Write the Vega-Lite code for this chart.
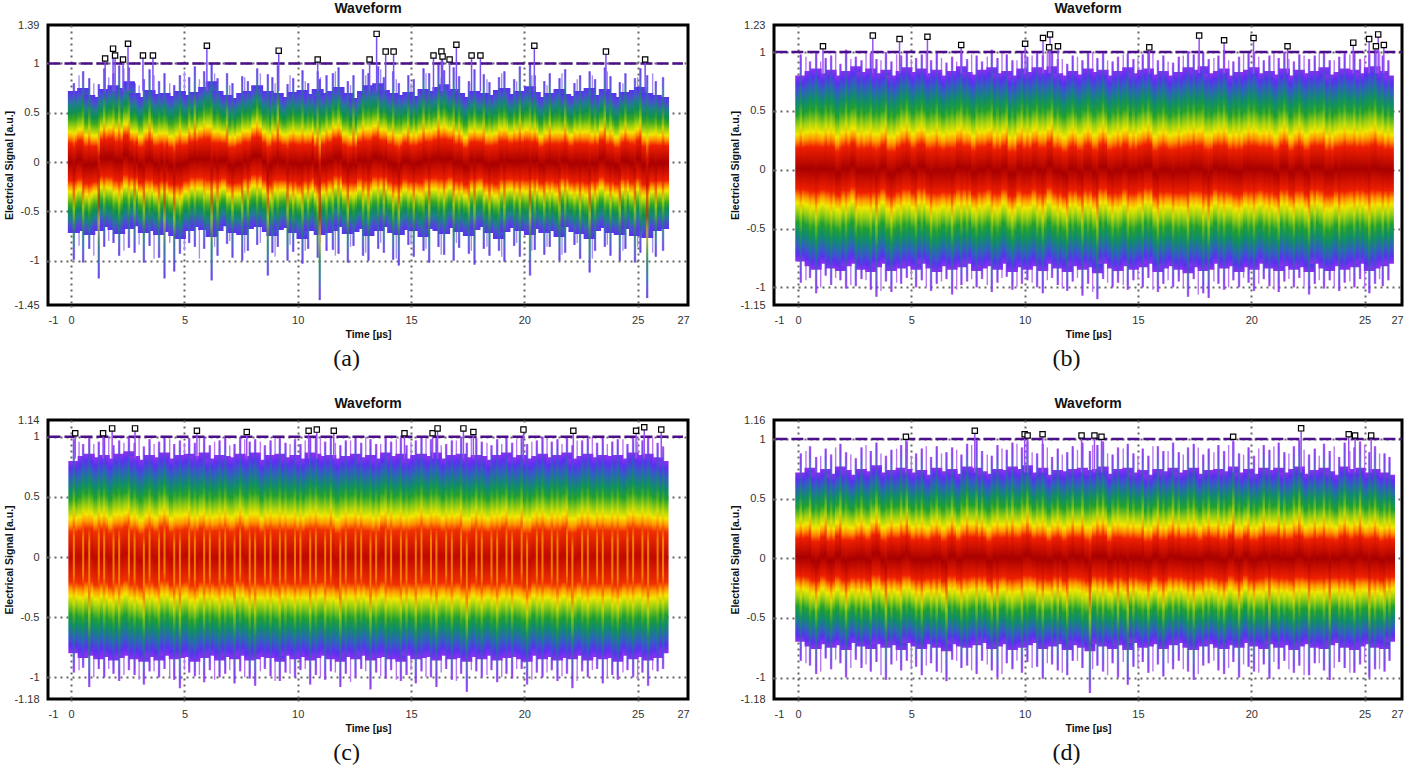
{"$schema":"https://vega.github.io/schema/vega-lite/v6.json","padding":{"left":2,"top":0,"right":0,"bottom":0},"background":"white","spacing":24,
"config":{"view":{"stroke":"black","strokeWidth":3},"font":"Liberation Sans","title":{"font":"Liberation Sans","fontSize":14,"fontWeight":"bold","color":"#111","offset":3},
"axis":{"labelFont":"Liberation Sans","labelFontSize":11,"labelColor":"#333","titleFont":"Liberation Sans","titleFontSize":10.5,"titleFontWeight":"bold","titleColor":"#111","domain":false,"grid":true,"gridColor":"#666","gridWidth":2,"gridDash":[2,4],"tickColor":"#666","tickWidth":2,"tickDash":[2,4],"tickSize":6,"labelPadding":3}},
"datasets":{
"level":[{"t":-1,"h":1},{"t":27,"h":1}],
"sa":[{"t":0.35,"h":0.88,"l":-0.85},{"t":1.0,"h":0.8,"l":-0.95},{"t":1.66,"h":0.86,"l":-0.8},{"t":2.33,"h":0.95,"l":-0.9},{"t":3.0,"h":0.78,"l":-0.84},{"t":3.66,"h":0.88,"l":-0.98},{"t":4.35,"h":0.8,"l":-0.82},{"t":5.0,"h":0.92,"l":-0.9},{"t":5.66,"h":0.84,"l":-0.98},{"t":6.33,"h":0.9,"l":-0.86},{"t":7.0,"h":0.78,"l":-0.8},{"t":7.66,"h":0.86,"l":-0.92},{"t":8.35,"h":0.9,"l":-0.82},{"t":9.0,"h":0.8,"l":-0.96},{"t":9.66,"h":0.88,"l":-0.84},{"t":10.33,"h":0.82,"l":-0.9},{"t":11.0,"h":0.86,"l":-0.82},{"t":11.66,"h":0.92,"l":-0.95},{"t":12.33,"h":0.78,"l":-0.86},{"t":13.0,"h":0.88,"l":-0.92},{"t":13.66,"h":0.94,"l":-0.82},{"t":14.35,"h":0.84,"l":-0.98},{"t":15.0,"h":0.8,"l":-0.84},{"t":15.66,"h":0.9,"l":-0.88},{"t":16.33,"h":0.86,"l":-0.94},{"t":17.0,"h":0.92,"l":-0.82},{"t":17.66,"h":0.8,"l":-0.9},{"t":18.35,"h":0.84,"l":-0.86},{"t":19.0,"h":0.9,"l":-0.96},{"t":19.66,"h":0.82,"l":-0.82},{"t":20.33,"h":0.88,"l":-0.9},{"t":21.0,"h":0.78,"l":-0.86},{"t":21.66,"h":0.9,"l":-0.94},{"t":22.33,"h":0.84,"l":-0.82},{"t":23.0,"h":0.88,"l":-0.98},{"t":23.66,"h":0.92,"l":-0.84},{"t":24.35,"h":0.8,"l":-0.9},{"t":25.0,"h":0.86,"l":-0.86},{"t":25.66,"h":0.9,"l":-0.92}],
"sb":[{"t":0.35,"h":0.96,"l":-0.94},{"t":1.0,"h":0.92,"l":-1.0},{"t":1.66,"h":0.99,"l":-0.92},{"t":2.33,"h":0.94,"l":-0.98},{"t":3.0,"h":1.0,"l":-0.94},{"t":3.66,"h":0.93,"l":-1.03},{"t":4.35,"h":0.98,"l":-0.96},{"t":5.0,"h":0.94,"l":-0.91},{"t":5.66,"h":1.0,"l":-1.0},{"t":6.33,"h":0.95,"l":-0.95},{"t":7.0,"h":0.92,"l":-1.02},{"t":7.66,"h":0.98,"l":-0.93},{"t":8.35,"h":0.96,"l":-0.98},{"t":9.0,"h":1.0,"l":-0.92},{"t":9.66,"h":0.93,"l":-1.0},{"t":10.33,"h":0.97,"l":-0.96},{"t":11.0,"h":0.99,"l":-0.94},{"t":11.66,"h":0.94,"l":-1.01},{"t":12.33,"h":0.96,"l":-0.92},{"t":13.0,"h":1.0,"l":-1.04},{"t":13.66,"h":0.93,"l":-0.96},{"t":14.35,"h":0.98,"l":-0.98},{"t":15.0,"h":0.95,"l":-0.93},{"t":15.66,"h":0.99,"l":-1.02},{"t":16.33,"h":0.92,"l":-0.94},{"t":17.0,"h":0.97,"l":-1.0},{"t":17.66,"h":1.0,"l":-1.06},{"t":18.35,"h":0.95,"l":-0.95},{"t":19.0,"h":0.93,"l":-1.0},{"t":19.66,"h":0.98,"l":-0.92},{"t":20.33,"h":0.96,"l":-0.97},{"t":21.0,"h":0.99,"l":-1.02},{"t":21.66,"h":0.94,"l":-0.93},{"t":22.33,"h":0.97,"l":-0.99},{"t":23.0,"h":1.0,"l":-0.94},{"t":23.66,"h":0.93,"l":-1.0},{"t":24.35,"h":0.98,"l":-0.95},{"t":25.0,"h":0.96,"l":-1.01},{"t":25.66,"h":0.99,"l":-0.93}],
"sc":[{"t":0.35,"h":0.96,"l":-0.94},{"t":1.0,"h":0.94,"l":-1.0},{"t":1.66,"h":0.99,"l":-0.93},{"t":2.33,"h":0.95,"l":-0.98},{"t":3.0,"h":1.0,"l":-1.02},{"t":3.66,"h":0.94,"l":-0.95},{"t":4.35,"h":0.98,"l":-1.0},{"t":5.0,"h":0.95,"l":-0.94},{"t":5.66,"h":1.0,"l":-0.98},{"t":6.33,"h":0.96,"l":-1.02},{"t":7.0,"h":0.93,"l":-0.94},{"t":7.66,"h":0.98,"l":-1.0},{"t":8.35,"h":0.96,"l":-0.95},{"t":9.0,"h":1.0,"l":-1.03},{"t":9.66,"h":0.94,"l":-0.97},{"t":10.33,"h":0.97,"l":-0.93},{"t":11.0,"h":0.99,"l":-1.0},{"t":11.66,"h":0.95,"l":-0.96},{"t":12.33,"h":0.97,"l":-1.04},{"t":13.0,"h":1.0,"l":-0.95},{"t":13.66,"h":0.94,"l":-0.99},{"t":14.35,"h":0.98,"l":-1.02},{"t":15.0,"h":0.96,"l":-0.94},{"t":15.66,"h":0.99,"l":-1.0},{"t":16.33,"h":0.93,"l":-0.96},{"t":17.0,"h":0.97,"l":-1.03},{"t":17.66,"h":1.0,"l":-0.94},{"t":18.35,"h":0.95,"l":-0.98},{"t":19.0,"h":0.94,"l":-1.0},{"t":19.66,"h":0.98,"l":-0.93},{"t":20.33,"h":0.96,"l":-1.02},{"t":21.0,"h":0.99,"l":-0.96},{"t":21.66,"h":0.94,"l":-0.99},{"t":22.33,"h":0.97,"l":-1.03},{"t":23.0,"h":1.0,"l":-0.94},{"t":23.66,"h":0.94,"l":-1.0},{"t":24.35,"h":0.98,"l":-0.96},{"t":25.0,"h":0.96,"l":-1.02},{"t":25.66,"h":0.99,"l":-0.94}],
"sd":[{"t":0.35,"h":0.9,"l":-0.88},{"t":1.0,"h":0.86,"l":-0.95},{"t":1.66,"h":0.93,"l":-0.85},{"t":2.33,"h":0.87,"l":-0.92},{"t":3.0,"h":0.95,"l":-0.89},{"t":3.66,"h":0.88,"l":-0.98},{"t":4.35,"h":0.92,"l":-0.86},{"t":5.0,"h":0.86,"l":-0.93},{"t":5.66,"h":0.94,"l":-0.9},{"t":6.33,"h":0.88,"l":-0.96},{"t":7.0,"h":0.91,"l":-0.86},{"t":7.66,"h":0.95,"l":-0.94},{"t":8.35,"h":0.87,"l":-0.89},{"t":9.0,"h":0.92,"l":-0.97},{"t":9.66,"h":0.96,"l":-0.86},{"t":10.33,"h":0.89,"l":-0.92},{"t":11.0,"h":0.93,"l":-0.88},{"t":11.66,"h":0.87,"l":-0.96},{"t":12.33,"h":0.91,"l":-0.86},{"t":13.0,"h":0.95,"l":-0.93},{"t":13.66,"h":0.88,"l":-0.98},{"t":14.35,"h":0.92,"l":-0.87},{"t":15.0,"h":0.86,"l":-0.92},{"t":15.66,"h":0.94,"l":-0.95},{"t":16.33,"h":0.9,"l":-0.88},{"t":17.0,"h":0.87,"l":-0.93},{"t":17.66,"h":0.93,"l":-0.97},{"t":18.35,"h":0.89,"l":-0.86},{"t":19.0,"h":0.95,"l":-0.92},{"t":19.66,"h":0.87,"l":-0.89},{"t":20.33,"h":0.92,"l":-0.96},{"t":21.0,"h":0.94,"l":-0.87},{"t":21.66,"h":0.88,"l":-0.93},{"t":22.33,"h":0.91,"l":-0.98},{"t":23.0,"h":0.86,"l":-0.88},{"t":23.66,"h":0.94,"l":-0.92},{"t":24.35,"h":0.9,"l":-0.96},{"t":25.0,"h":0.95,"l":-0.87},{"t":25.66,"h":0.88,"l":-0.93}],
"pa":[{"t":1.5,"h":1.05},{"t":1.85,"h":1.15},{"t":1.94,"h":1.08},{"t":2.29,"h":1.04},{"t":2.51,"h":1.2},{"t":3.17,"h":1.08},{"t":3.61,"h":1.08},{"t":5.99,"h":1.18},{"t":9.16,"h":1.13},{"t":10.88,"h":1.04},{"t":13.17,"h":1.04},{"t":13.48,"h":1.3},{"t":13.88,"h":1.12},{"t":14.23,"h":1.12},{"t":15.99,"h":1.08},{"t":16.34,"h":1.12},{"t":16.39,"h":1.07},{"t":16.7,"h":1.04},{"t":17.0,"h":1.19},{"t":17.67,"h":1.08},{"t":18.06,"h":1.08},{"t":20.44,"h":1.18},{"t":23.6,"h":1.12},{"t":25.33,"h":1.04}],
"pb":[{"t":1.1,"h":1.05},{"t":3.3,"h":1.14},{"t":4.48,"h":1.11},{"t":5.71,"h":1.13},{"t":7.2,"h":1.06},{"t":10.02,"h":1.07},{"t":10.81,"h":1.12},{"t":11.08,"h":1.04},{"t":11.12,"h":1.15},{"t":11.47,"h":1.05},{"t":15.5,"h":1.04},{"t":17.7,"h":1.14},{"t":18.8,"h":1.1},{"t":20.1,"h":1.12},{"t":21.6,"h":1.05},{"t":24.5,"h":1.08},{"t":25.2,"h":1.11},{"t":25.5,"h":1.05},{"t":25.6,"h":1.15},{"t":25.85,"h":1.06}],
"pc":[{"t":0.18,"h":1.03},{"t":1.41,"h":1.03},{"t":1.81,"h":1.07},{"t":2.82,"h":1.07},{"t":5.55,"h":1.05},{"t":7.75,"h":1.04},{"t":10.48,"h":1.05},{"t":10.84,"h":1.06},{"t":11.59,"h":1.05},{"t":14.71,"h":1.03},{"t":15.95,"h":1.03},{"t":16.17,"h":1.07},{"t":17.31,"h":1.07},{"t":17.75,"h":1.04},{"t":19.96,"h":1.06},{"t":22.16,"h":1.05},{"t":24.93,"h":1.05},{"t":25.29,"h":1.08},{"t":26.04,"h":1.06}],
"pd":[{"t":4.76,"h":1.02},{"t":7.8,"h":1.07},{"t":10.0,"h":1.04},{"t":10.13,"h":1.03},{"t":10.79,"h":1.04},{"t":12.51,"h":1.03},{"t":13.08,"h":1.03},{"t":13.39,"h":1.02},{"t":19.2,"h":1.02},{"t":22.2,"h":1.09},{"t":24.3,"h":1.04},{"t":24.58,"h":1.03},{"t":25.29,"h":1.03}],
"a":[{"t":0.12,"h":0.8,"l":-0.99,"u":0.72,"d":-0.72},{"t":0.53,"h":0.92,"l":-1.02,"u":0.75,"d":-0.7},{"t":0.8,"h":0.85,"l":-0.88,"u":0.68,"d":-0.74},{"t":1.22,"h":0.79,"l":-1.18,"u":0.66,"d":-0.7},{"t":1.46,"h":0.95,"l":-0.86,"u":0.74,"d":-0.66},{"t":1.87,"h":0.9,"l":-0.82,"u":0.78,"d":-0.69},{"t":2.12,"h":0.98,"l":-0.95,"u":0.75,"d":-0.73},{"t":2.55,"h":0.96,"l":-0.87,"u":0.82,"d":-0.68},{"t":2.8,"h":0.8,"l":-0.92,"u":0.7,"d":-0.65},{"t":3.21,"h":0.84,"l":-1.02,"u":0.66,"d":-0.72},{"t":3.46,"h":0.94,"l":-0.85,"u":0.73,"d":-0.7},{"t":3.88,"h":0.82,"l":-0.97,"u":0.69,"d":-0.74},{"t":4.12,"h":0.9,"l":-1.18,"u":0.7,"d":-0.71},{"t":4.55,"h":0.78,"l":-1.11,"u":0.67,"d":-0.75},{"t":4.8,"h":0.88,"l":-0.93,"u":0.72,"d":-0.78},{"t":5.21,"h":0.86,"l":-0.82,"u":0.68,"d":-0.7},{"t":5.46,"h":0.97,"l":-0.86,"u":0.71,"d":-0.66},{"t":5.87,"h":0.92,"l":-0.88,"u":0.76,"d":-0.69},{"t":6.2,"h":1.0,"l":-1.2,"u":0.82,"d":-0.76},{"t":6.46,"h":0.85,"l":-0.95,"u":0.72,"d":-0.7},{"t":6.88,"h":0.9,"l":-0.83,"u":0.68,"d":-0.65},{"t":7.12,"h":0.8,"l":-0.97,"u":0.65,"d":-0.72},{"t":7.55,"h":0.87,"l":-1.0,"u":0.7,"d":-0.74},{"t":7.8,"h":0.82,"l":-0.9,"u":0.72,"d":-0.68},{"t":8.21,"h":0.95,"l":-0.84,"u":0.78,"d":-0.66},{"t":8.68,"h":0.89,"l":-1.15,"u":0.72,"d":-0.71},{"t":8.88,"h":0.86,"l":-0.92,"u":0.68,"d":-0.75},{"t":9.12,"h":0.98,"l":-0.86,"u":0.7,"d":-0.69},{"t":9.55,"h":0.79,"l":-1.0,"u":0.66,"d":-0.67},{"t":9.8,"h":0.85,"l":-0.91,"u":0.71,"d":-0.72},{"t":10.21,"h":0.93,"l":-1.03,"u":0.73,"d":-0.78},{"t":10.46,"h":0.8,"l":-0.88,"u":0.69,"d":-0.7},{"t":10.88,"h":0.92,"l":-0.97,"u":0.74,"d":-0.68},{"t":10.97,"h":0.84,"l":-1.4,"u":0.67,"d":-0.74},{"t":11.27,"h":0.88,"l":-0.9,"u":0.7,"d":-0.72},{"t":11.55,"h":0.9,"l":-0.89,"u":0.72,"d":-0.7},{"t":11.8,"h":0.96,"l":-0.93,"u":0.76,"d":-0.66},{"t":12.21,"h":0.82,"l":-1.02,"u":0.7,"d":-0.73},{"t":12.46,"h":0.88,"l":-0.85,"u":0.65,"d":-0.71},{"t":12.88,"h":0.94,"l":-0.95,"u":0.72,"d":-0.68},{"t":13.12,"h":0.9,"l":-1.0,"u":0.78,"d":-0.75},{"t":13.55,"h":0.97,"l":-0.88,"u":0.8,"d":-0.7},{"t":13.8,"h":0.86,"l":-0.92,"u":0.73,"d":-0.66},{"t":14.21,"h":0.92,"l":-0.99,"u":0.7,"d":-0.72},{"t":14.46,"h":0.8,"l":-1.05,"u":0.68,"d":-0.74},{"t":14.88,"h":0.88,"l":-0.84,"u":0.71,"d":-0.69},{"t":15.12,"h":0.84,"l":-0.96,"u":0.67,"d":-0.7},{"t":15.55,"h":0.95,"l":-0.9,"u":0.74,"d":-0.76},{"t":15.8,"h":0.9,"l":-1.02,"u":0.72,"d":-0.68},{"t":16.21,"h":0.99,"l":-0.86,"u":0.76,"d":-0.7},{"t":16.46,"h":0.93,"l":-0.94,"u":0.79,"d":-0.73},{"t":16.88,"h":0.96,"l":-1.0,"u":0.74,"d":-0.67},{"t":17.12,"h":0.87,"l":-0.87,"u":0.7,"d":-0.71},{"t":17.55,"h":0.82,"l":-0.93,"u":0.66,"d":-0.75},{"t":17.8,"h":0.94,"l":-1.04,"u":0.72,"d":-0.69},{"t":18.21,"h":0.89,"l":-0.88,"u":0.7,"d":-0.66},{"t":18.46,"h":0.81,"l":-0.95,"u":0.68,"d":-0.72},{"t":18.88,"h":0.86,"l":-0.9,"u":0.73,"d":-0.78},{"t":19.12,"h":0.92,"l":-1.01,"u":0.75,"d":-0.71},{"t":19.55,"h":0.84,"l":-0.85,"u":0.69,"d":-0.67},{"t":19.8,"h":0.97,"l":-0.96,"u":0.72,"d":-0.7},{"t":20.25,"h":1.0,"l":-1.15,"u":0.77,"d":-0.74},{"t":20.46,"h":0.88,"l":-0.89,"u":0.71,"d":-0.68},{"t":20.88,"h":0.82,"l":-0.94,"u":0.66,"d":-0.72},{"t":21.12,"h":0.9,"l":-0.86,"u":0.7,"d":-0.7},{"t":21.55,"h":0.85,"l":-1.0,"u":0.74,"d":-0.76},{"t":21.8,"h":0.94,"l":-0.92,"u":0.69,"d":-0.66},{"t":22.21,"h":0.8,"l":-0.84,"u":0.67,"d":-0.71},{"t":22.46,"h":0.88,"l":-0.98,"u":0.72,"d":-0.73},{"t":22.88,"h":0.92,"l":-1.12,"u":0.75,"d":-0.78},{"t":23.12,"h":0.84,"l":-0.9,"u":0.68,"d":-0.7},{"t":23.55,"h":0.96,"l":-0.86,"u":0.74,"d":-0.67},{"t":23.8,"h":0.87,"l":-0.95,"u":0.7,"d":-0.72},{"t":24.21,"h":0.81,"l":-1.0,"u":0.66,"d":-0.74},{"t":24.46,"h":0.9,"l":-0.88,"u":0.71,"d":-0.68},{"t":24.88,"h":0.85,"l":-1.02,"u":0.73,"d":-0.75},{"t":25.12,"h":0.95,"l":-0.92,"u":0.76,"d":-0.7},{"t":25.42,"h":0.88,"l":-1.38,"u":0.7,"d":-0.77},{"t":25.8,"h":0.82,"l":-0.96,"u":0.68,"d":-0.7},{"t":26.12,"h":0.86,"l":-0.9,"u":0.66,"d":-0.68}],
"b":[{"t":0.12,"h":0.98,"l":-0.96,"u":0.8,"d":-0.78},{"t":0.53,"h":0.92,"l":-0.92,"u":0.84,"d":-0.82},{"t":0.8,"h":1.0,"l":-1.05,"u":0.86,"d":-0.85},{"t":1.22,"h":0.95,"l":-0.9,"u":0.82,"d":-0.8},{"t":1.46,"h":0.97,"l":-0.98,"u":0.85,"d":-0.84},{"t":1.87,"h":0.9,"l":-0.94,"u":0.8,"d":-0.86},{"t":2.12,"h":1.02,"l":-1.01,"u":0.84,"d":-0.82},{"t":2.55,"h":0.96,"l":-0.99,"u":0.88,"d":-0.8},{"t":2.8,"h":0.93,"l":-0.93,"u":0.83,"d":-0.85},{"t":3.21,"h":0.99,"l":-1.02,"u":0.86,"d":-0.87},{"t":3.46,"h":0.94,"l":-1.08,"u":0.82,"d":-0.83},{"t":3.88,"h":1.0,"l":-0.95,"u":0.85,"d":-0.8},{"t":4.12,"h":0.92,"l":-1.04,"u":0.8,"d":-0.86},{"t":4.55,"h":0.97,"l":-0.97,"u":0.84,"d":-0.84},{"t":4.8,"h":1.01,"l":-0.92,"u":0.87,"d":-0.82},{"t":5.21,"h":0.95,"l":-1.0,"u":0.83,"d":-0.85},{"t":5.46,"h":0.98,"l":-0.94,"u":0.86,"d":-0.8},{"t":5.87,"h":0.93,"l":-1.03,"u":0.82,"d":-0.84},{"t":6.12,"h":0.99,"l":-0.97,"u":0.85,"d":-0.87},{"t":6.55,"h":0.91,"l":-0.93,"u":0.8,"d":-0.82},{"t":6.8,"h":0.96,"l":-1.06,"u":0.84,"d":-0.85},{"t":7.21,"h":1.0,"l":-0.98,"u":0.88,"d":-0.83},{"t":7.46,"h":0.94,"l":-0.95,"u":0.83,"d":-0.8},{"t":7.88,"h":0.97,"l":-1.0,"u":0.81,"d":-0.86},{"t":8.12,"h":0.92,"l":-0.93,"u":0.85,"d":-0.84},{"t":8.55,"h":1.02,"l":-1.04,"u":0.87,"d":-0.82},{"t":8.8,"h":0.95,"l":-0.96,"u":0.82,"d":-0.85},{"t":9.21,"h":0.98,"l":-0.91,"u":0.84,"d":-0.8},{"t":9.46,"h":0.93,"l":-1.02,"u":0.8,"d":-0.87},{"t":9.88,"h":0.99,"l":-0.97,"u":0.86,"d":-0.83},{"t":10.12,"h":0.96,"l":-0.94,"u":0.83,"d":-0.85},{"t":10.55,"h":1.0,"l":-1.0,"u":0.87,"d":-0.82},{"t":10.8,"h":0.97,"l":-1.05,"u":0.85,"d":-0.86},{"t":11.21,"h":1.01,"l":-0.92,"u":0.88,"d":-0.8},{"t":11.46,"h":0.94,"l":-0.98,"u":0.82,"d":-0.84},{"t":11.88,"h":0.9,"l":-1.03,"u":0.8,"d":-0.87},{"t":12.12,"h":0.97,"l":-0.95,"u":0.84,"d":-0.82},{"t":12.55,"h":0.93,"l":-1.07,"u":0.81,"d":-0.85},{"t":12.8,"h":0.99,"l":-0.97,"u":0.86,"d":-0.83},{"t":13.21,"h":0.95,"l":-1.1,"u":0.83,"d":-0.88},{"t":13.46,"h":1.0,"l":-0.93,"u":0.85,"d":-0.8},{"t":13.88,"h":0.92,"l":-1.0,"u":0.8,"d":-0.84},{"t":14.12,"h":0.96,"l":-0.96,"u":0.84,"d":-0.86},{"t":14.55,"h":0.99,"l":-1.02,"u":0.87,"d":-0.82},{"t":14.8,"h":0.94,"l":-0.94,"u":0.82,"d":-0.85},{"t":15.21,"h":0.98,"l":-1.0,"u":0.85,"d":-0.83},{"t":15.46,"h":1.0,"l":-0.92,"u":0.86,"d":-0.8},{"t":15.88,"h":0.93,"l":-1.04,"u":0.81,"d":-0.87},{"t":16.12,"h":0.97,"l":-0.97,"u":0.84,"d":-0.84},{"t":16.55,"h":0.91,"l":-1.0,"u":0.8,"d":-0.82},{"t":16.8,"h":0.96,"l":-0.95,"u":0.83,"d":-0.85},{"t":17.21,"h":1.01,"l":-1.08,"u":0.87,"d":-0.88},{"t":17.46,"h":0.98,"l":-0.93,"u":0.85,"d":-0.83},{"t":17.88,"h":1.0,"l":-1.05,"u":0.88,"d":-0.86},{"t":18.12,"h":0.94,"l":-1.09,"u":0.82,"d":-0.85},{"t":18.55,"h":0.97,"l":-0.97,"u":0.84,"d":-0.8},{"t":18.8,"h":1.02,"l":-1.02,"u":0.86,"d":-0.84},{"t":19.21,"h":0.92,"l":-0.94,"u":0.8,"d":-0.82},{"t":19.46,"h":0.96,"l":-1.0,"u":0.83,"d":-0.87},{"t":19.88,"h":0.99,"l":-0.96,"u":0.85,"d":-0.83},{"t":20.12,"h":1.0,"l":-1.03,"u":0.87,"d":-0.85},{"t":20.55,"h":0.93,"l":-0.93,"u":0.82,"d":-0.8},{"t":20.8,"h":0.97,"l":-0.99,"u":0.84,"d":-0.84},{"t":21.21,"h":0.95,"l":-1.04,"u":0.81,"d":-0.86},{"t":21.46,"h":1.0,"l":-0.95,"u":0.86,"d":-0.82},{"t":21.88,"h":0.92,"l":-1.0,"u":0.8,"d":-0.85},{"t":22.12,"h":0.98,"l":-0.92,"u":0.85,"d":-0.83},{"t":22.55,"h":0.94,"l":-1.06,"u":0.82,"d":-0.87},{"t":22.8,"h":0.97,"l":-0.97,"u":0.84,"d":-0.8},{"t":23.21,"h":1.01,"l":-1.01,"u":0.87,"d":-0.84},{"t":23.46,"h":0.93,"l":-0.94,"u":0.81,"d":-0.86},{"t":23.88,"h":0.96,"l":-1.03,"u":0.83,"d":-0.82},{"t":24.12,"h":0.99,"l":-0.96,"u":0.86,"d":-0.85},{"t":24.55,"h":1.0,"l":-1.0,"u":0.85,"d":-0.83},{"t":24.8,"h":0.94,"l":-0.93,"u":0.82,"d":-0.8},{"t":25.21,"h":0.98,"l":-1.05,"u":0.87,"d":-0.86},{"t":25.46,"h":1.02,"l":-0.97,"u":0.88,"d":-0.84},{"t":25.8,"h":0.97,"l":-0.99,"u":0.84,"d":-0.82},{"t":26.05,"h":0.93,"l":-0.94,"u":0.8,"d":-0.8}],
"c":[{"t":0.12,"h":0.98,"l":-0.96,"u":0.8,"d":-0.8},{"t":0.53,"h":0.94,"l":-0.92,"u":0.84,"d":-0.84},{"t":0.8,"h":1.0,"l":-1.08,"u":0.86,"d":-0.82},{"t":1.22,"h":0.96,"l":-0.93,"u":0.83,"d":-0.85},{"t":1.46,"h":0.99,"l":-1.0,"u":0.85,"d":-0.83},{"t":1.87,"h":0.93,"l":-0.97,"u":0.82,"d":-0.86},{"t":2.12,"h":0.97,"l":-1.03,"u":0.86,"d":-0.84},{"t":2.55,"h":1.0,"l":-0.94,"u":0.88,"d":-0.82},{"t":2.8,"h":0.95,"l":-0.98,"u":0.84,"d":-0.85},{"t":3.21,"h":0.92,"l":-1.06,"u":0.81,"d":-0.87},{"t":3.46,"h":0.98,"l":-0.95,"u":0.85,"d":-0.83},{"t":3.88,"h":0.96,"l":-1.0,"u":0.83,"d":-0.86},{"t":4.12,"h":1.0,"l":-0.93,"u":0.87,"d":-0.82},{"t":4.55,"h":0.94,"l":-1.02,"u":0.82,"d":-0.85},{"t":4.8,"h":0.97,"l":-1.09,"u":0.85,"d":-0.84},{"t":5.21,"h":0.99,"l":-0.96,"u":0.86,"d":-0.83},{"t":5.46,"h":0.95,"l":-0.99,"u":0.84,"d":-0.87},{"t":5.87,"h":1.0,"l":-1.04,"u":0.87,"d":-0.84},{"t":6.12,"h":0.93,"l":-0.94,"u":0.82,"d":-0.82},{"t":6.55,"h":0.97,"l":-1.0,"u":0.85,"d":-0.86},{"t":6.8,"h":0.99,"l":-0.97,"u":0.84,"d":-0.83},{"t":7.21,"h":0.94,"l":-1.05,"u":0.83,"d":-0.85},{"t":7.46,"h":1.0,"l":-0.95,"u":0.86,"d":-0.82},{"t":7.88,"h":0.96,"l":-1.01,"u":0.84,"d":-0.86},{"t":8.12,"h":0.98,"l":-1.07,"u":0.87,"d":-0.85},{"t":8.55,"h":0.93,"l":-0.93,"u":0.81,"d":-0.83},{"t":8.8,"h":0.97,"l":-0.99,"u":0.85,"d":-0.84},{"t":9.21,"h":1.0,"l":-1.03,"u":0.86,"d":-0.87},{"t":9.46,"h":0.95,"l":-0.96,"u":0.83,"d":-0.82},{"t":9.88,"h":0.98,"l":-1.0,"u":0.85,"d":-0.85},{"t":10.12,"h":0.94,"l":-0.94,"u":0.82,"d":-0.83},{"t":10.55,"h":1.0,"l":-1.06,"u":0.87,"d":-0.86},{"t":10.8,"h":0.99,"l":-0.98,"u":0.86,"d":-0.84},{"t":11.21,"h":0.96,"l":-1.02,"u":0.84,"d":-0.82},{"t":11.46,"h":1.0,"l":-0.95,"u":0.85,"d":-0.85},{"t":11.88,"h":0.93,"l":-1.08,"u":0.82,"d":-0.87},{"t":12.12,"h":0.97,"l":-0.97,"u":0.84,"d":-0.83},{"t":12.55,"h":0.99,"l":-1.0,"u":0.86,"d":-0.85},{"t":12.8,"h":0.95,"l":-0.93,"u":0.83,"d":-0.82},{"t":13.21,"h":0.98,"l":-1.1,"u":0.85,"d":-0.86},{"t":13.46,"h":0.94,"l":-0.96,"u":0.82,"d":-0.84},{"t":13.88,"h":1.0,"l":-1.01,"u":0.87,"d":-0.83},{"t":14.12,"h":0.96,"l":-0.94,"u":0.84,"d":-0.85},{"t":14.55,"h":0.99,"l":-1.03,"u":0.86,"d":-0.87},{"t":14.8,"h":0.93,"l":-0.98,"u":0.82,"d":-0.82},{"t":15.21,"h":0.97,"l":-1.05,"u":0.85,"d":-0.85},{"t":15.46,"h":1.0,"l":-0.95,"u":0.86,"d":-0.84},{"t":15.88,"h":0.98,"l":-1.0,"u":0.84,"d":-0.83},{"t":16.12,"h":1.0,"l":-1.08,"u":0.87,"d":-0.86},{"t":16.55,"h":0.94,"l":-0.93,"u":0.82,"d":-0.82},{"t":16.8,"h":0.97,"l":-1.02,"u":0.85,"d":-0.85},{"t":17.21,"h":1.0,"l":-0.97,"u":0.86,"d":-0.84},{"t":17.46,"h":0.95,"l":-1.12,"u":0.83,"d":-0.87},{"t":17.88,"h":0.99,"l":-0.95,"u":0.85,"d":-0.83},{"t":18.12,"h":0.96,"l":-1.0,"u":0.84,"d":-0.85},{"t":18.55,"h":0.93,"l":-0.94,"u":0.81,"d":-0.82},{"t":18.8,"h":0.98,"l":-1.04,"u":0.85,"d":-0.86},{"t":19.21,"h":1.0,"l":-0.97,"u":0.87,"d":-0.84},{"t":19.46,"h":0.95,"l":-1.01,"u":0.83,"d":-0.83},{"t":19.88,"h":0.99,"l":-0.93,"u":0.85,"d":-0.85},{"t":20.12,"h":0.94,"l":-1.06,"u":0.82,"d":-0.87},{"t":20.55,"h":0.97,"l":-0.96,"u":0.84,"d":-0.82},{"t":20.8,"h":1.0,"l":-1.0,"u":0.86,"d":-0.85},{"t":21.21,"h":0.96,"l":-0.94,"u":0.83,"d":-0.83},{"t":21.46,"h":0.98,"l":-1.03,"u":0.85,"d":-0.86},{"t":21.88,"h":1.0,"l":-0.97,"u":0.87,"d":-0.84},{"t":22.12,"h":0.93,"l":-1.09,"u":0.82,"d":-0.85},{"t":22.55,"h":0.97,"l":-0.95,"u":0.84,"d":-0.82},{"t":22.8,"h":0.99,"l":-1.0,"u":0.86,"d":-0.86},{"t":23.21,"h":0.95,"l":-0.93,"u":0.83,"d":-0.83},{"t":23.46,"h":1.0,"l":-1.05,"u":0.85,"d":-0.85},{"t":23.88,"h":0.96,"l":-0.98,"u":0.84,"d":-0.84},{"t":24.12,"h":0.98,"l":-1.02,"u":0.85,"d":-0.87},{"t":24.55,"h":0.94,"l":-0.94,"u":0.82,"d":-0.82},{"t":24.8,"h":1.0,"l":-1.0,"u":0.87,"d":-0.85},{"t":25.21,"h":0.97,"l":-0.96,"u":0.85,"d":-0.83},{"t":25.46,"h":0.99,"l":-1.07,"u":0.86,"d":-0.86},{"t":25.88,"h":0.95,"l":-0.95,"u":0.83,"d":-0.84},{"t":26.12,"h":0.92,"l":-0.93,"u":0.8,"d":-0.8}],
"d":[{"t":0.12,"h":0.88,"l":-0.86,"u":0.72,"d":-0.7},{"t":0.53,"h":0.94,"l":-0.9,"u":0.76,"d":-0.74},{"t":0.8,"h":0.85,"l":-0.97,"u":0.72,"d":-0.76},{"t":1.22,"h":0.92,"l":-0.84,"u":0.75,"d":-0.72},{"t":1.46,"h":0.87,"l":-0.93,"u":0.71,"d":-0.75},{"t":1.87,"h":0.96,"l":-0.88,"u":0.77,"d":-0.73},{"t":2.12,"h":0.89,"l":-1.0,"u":0.74,"d":-0.77},{"t":2.55,"h":0.84,"l":-0.85,"u":0.7,"d":-0.71},{"t":2.8,"h":0.93,"l":-0.92,"u":0.75,"d":-0.74},{"t":3.21,"h":0.9,"l":-0.95,"u":0.73,"d":-0.76},{"t":3.46,"h":0.97,"l":-0.87,"u":0.78,"d":-0.72},{"t":3.88,"h":0.86,"l":-1.02,"u":0.72,"d":-0.75},{"t":4.12,"h":0.91,"l":-0.89,"u":0.74,"d":-0.73},{"t":4.55,"h":0.95,"l":-0.94,"u":0.76,"d":-0.77},{"t":4.8,"h":0.98,"l":-0.86,"u":0.75,"d":-0.71},{"t":5.21,"h":0.88,"l":-0.91,"u":0.72,"d":-0.74},{"t":5.46,"h":0.92,"l":-0.98,"u":0.74,"d":-0.76},{"t":5.87,"h":0.85,"l":-0.88,"u":0.7,"d":-0.72},{"t":6.12,"h":0.94,"l":-0.95,"u":0.76,"d":-0.75},{"t":6.55,"h":0.89,"l":-1.03,"u":0.73,"d":-0.78},{"t":6.8,"h":0.93,"l":-0.85,"u":0.75,"d":-0.72},{"t":7.21,"h":0.87,"l":-0.92,"u":0.71,"d":-0.74},{"t":7.46,"h":0.96,"l":-0.9,"u":0.77,"d":-0.75},{"t":7.88,"h":0.99,"l":-0.97,"u":0.76,"d":-0.73},{"t":8.12,"h":0.9,"l":-0.86,"u":0.73,"d":-0.71},{"t":8.55,"h":0.86,"l":-0.94,"u":0.71,"d":-0.76},{"t":8.8,"h":0.95,"l":-1.0,"u":0.75,"d":-0.74},{"t":9.21,"h":0.91,"l":-0.88,"u":0.74,"d":-0.72},{"t":9.46,"h":0.97,"l":-0.93,"u":0.77,"d":-0.77},{"t":9.88,"h":0.93,"l":-0.96,"u":0.75,"d":-0.75},{"t":10.12,"h":0.98,"l":-0.87,"u":0.78,"d":-0.73},{"t":10.55,"h":0.88,"l":-0.91,"u":0.72,"d":-0.71},{"t":10.8,"h":0.96,"l":-1.01,"u":0.76,"d":-0.76},{"t":11.21,"h":0.85,"l":-0.89,"u":0.7,"d":-0.74},{"t":11.46,"h":0.92,"l":-0.94,"u":0.74,"d":-0.72},{"t":11.88,"h":0.89,"l":-0.98,"u":0.73,"d":-0.77},{"t":12.12,"h":0.94,"l":-0.86,"u":0.75,"d":-0.73},{"t":12.55,"h":0.97,"l":-0.92,"u":0.76,"d":-0.75},{"t":12.88,"h":0.9,"l":-1.13,"u":0.74,"d":-0.78},{"t":13.21,"h":0.95,"l":-0.9,"u":0.75,"d":-0.72},{"t":13.46,"h":0.98,"l":-0.95,"u":0.77,"d":-0.74},{"t":13.88,"h":0.87,"l":-0.88,"u":0.71,"d":-0.76},{"t":14.12,"h":0.93,"l":-1.0,"u":0.75,"d":-0.73},{"t":14.55,"h":0.96,"l":-1.06,"u":0.76,"d":-0.77},{"t":14.8,"h":0.88,"l":-0.91,"u":0.72,"d":-0.71},{"t":15.21,"h":0.92,"l":-0.87,"u":0.74,"d":-0.75},{"t":15.46,"h":0.86,"l":-0.96,"u":0.7,"d":-0.74},{"t":15.88,"h":0.94,"l":-0.89,"u":0.75,"d":-0.72},{"t":16.12,"h":0.9,"l":-0.99,"u":0.73,"d":-0.76},{"t":16.55,"h":0.97,"l":-0.93,"u":0.76,"d":-0.73},{"t":16.8,"h":0.89,"l":-0.86,"u":0.72,"d":-0.71},{"t":17.21,"h":0.93,"l":-0.95,"u":0.74,"d":-0.75},{"t":17.46,"h":0.96,"l":-1.02,"u":0.76,"d":-0.77},{"t":17.88,"h":0.87,"l":-0.9,"u":0.71,"d":-0.74},{"t":18.12,"h":0.92,"l":-0.88,"u":0.74,"d":-0.72},{"t":18.55,"h":0.95,"l":-0.94,"u":0.75,"d":-0.75},{"t":18.8,"h":0.9,"l":-0.97,"u":0.73,"d":-0.76},{"t":19.21,"h":0.98,"l":-0.87,"u":0.77,"d":-0.73},{"t":19.46,"h":0.88,"l":-1.0,"u":0.72,"d":-0.75},{"t":19.88,"h":0.93,"l":-0.91,"u":0.75,"d":-0.71},{"t":20.12,"h":0.86,"l":-0.95,"u":0.71,"d":-0.74},{"t":20.55,"h":0.95,"l":-0.89,"u":0.76,"d":-0.76},{"t":20.8,"h":0.91,"l":-1.01,"u":0.74,"d":-0.72},{"t":21.21,"h":0.97,"l":-0.93,"u":0.76,"d":-0.75},{"t":21.46,"h":0.89,"l":-0.86,"u":0.72,"d":-0.73},{"t":21.88,"h":0.94,"l":-0.96,"u":0.75,"d":-0.77},{"t":22.12,"h":0.99,"l":-0.9,"u":0.77,"d":-0.74},{"t":22.55,"h":0.87,"l":-0.98,"u":0.71,"d":-0.72},{"t":22.8,"h":0.92,"l":-0.88,"u":0.74,"d":-0.75},{"t":23.21,"h":0.96,"l":-0.94,"u":0.76,"d":-0.76},{"t":23.46,"h":0.9,"l":-1.02,"u":0.73,"d":-0.73},{"t":23.88,"h":0.85,"l":-0.87,"u":0.7,"d":-0.71},{"t":24.12,"h":0.97,"l":-0.92,"u":0.77,"d":-0.75},{"t":24.55,"h":0.93,"l":-0.96,"u":0.75,"d":-0.77},{"t":24.8,"h":0.98,"l":-0.89,"u":0.76,"d":-0.74},{"t":25.21,"h":0.89,"l":-1.0,"u":0.72,"d":-0.72},{"t":25.46,"h":0.94,"l":-0.93,"u":0.75,"d":-0.75},{"t":25.88,"h":0.88,"l":-0.95,"u":0.72,"d":-0.76},{"t":26.1,"h":0.85,"l":-0.86,"u":0.7,"d":-0.7}]
},
"vconcat":[
{"spacing":37,"hconcat":[
{"title":{"text":"(a)","orient":"bottom","anchor":"middle","font":"Liberation Serif","fontSize":24,"fontWeight":"normal","offset":6},"vconcat":[{"title":"Waveform","width":640,"height":280,"encoding":{"x":{"field":"t","type":"quantitative","scale":{"domain":[-0.8,27],"nice":false,"zero":false},"axis":{"title":"Time [µs]","values":[-0.8,0,5,10,15,20,25,27],"labelExpr":"datum.value<0?'-1':''+datum.value","gridOpacity":{"condition":{"test":"datum.value<0||datum.value>26","value":0},"value":1},"tickOpacity":{"condition":{"test":"datum.value<0||datum.value>26","value":0},"value":1}}},"y":{"field":"h","type":"quantitative","scale":{"domain":[-1.45,1.39],"nice":false,"zero":false},"axis":{"title":"Electrical Signal [a.u.]","titlePadding":0,"values":[-1.45,-1,-0.5,0,0.5,1,1.39],"labelExpr":"''+datum.value","minExtent":34,"maxExtent":34,"gridOpacity":{"condition":{"test":"abs(datum.value)>1.01","value":0},"value":1},"tickOpacity":{"condition":{"test":"abs(datum.value)>1.01","value":0},"value":1}}}},
"layer":[
{"data":{"name":"sa"},"mark":{"type":"rule","color":"#a890f0","strokeWidth":1.4},"encoding":{"y2":{"field":"l"}}},
{"data":{"name":"a"},"mark":{"type":"rule","color":"#6a40f0","strokeWidth":1.5,"opacity":0.85},"encoding":{"y2":{"field":"l"}}},
{"data":{"name":"a"},"mark":{"type":"bar","orient":"vertical","width":12,"fill":{"gradient":"linear","x1":0,"y1":0,"x2":0,"y2":1,"stops":[{"offset":0,"color":"#5a30f0"},{"offset":0.05,"color":"#4a4fd0"},{"offset":0.1,"color":"#1f7f8f"},{"offset":0.155,"color":"#0f8f50"},{"offset":0.2,"color":"#3aa820"},{"offset":0.25,"color":"#a0d010"},{"offset":0.29,"color":"#f0e800"},{"offset":0.325,"color":"#ff9a00"},{"offset":0.37,"color":"#f02000"},{"offset":0.5,"color":"#a80000"},{"offset":0.63,"color":"#f02000"},{"offset":0.675,"color":"#ff9a00"},{"offset":0.71,"color":"#f0e800"},{"offset":0.75,"color":"#a0d010"},{"offset":0.8,"color":"#3aa820"},{"offset":0.845,"color":"#0f8f50"},{"offset":0.9,"color":"#1f7f8f"},{"offset":0.95,"color":"#4a4fd0"},{"offset":1,"color":"#5a30f0"}]}},"encoding":{"y":{"field":"u","type":"quantitative"},"y2":{"field":"d"}}},
{"data":{"name":"a"},"mark":{"type":"bar","orient":"vertical","width":2.5,"opacity":0.55,"fill":{"gradient":"linear","x1":0,"y1":0,"x2":0,"y2":1,"stops":[{"offset":0,"color":"#5a30f0"},{"offset":0.05,"color":"#4a4fd0"},{"offset":0.1,"color":"#1f7f8f"},{"offset":0.155,"color":"#0f8f50"},{"offset":0.2,"color":"#3aa820"},{"offset":0.25,"color":"#a0d010"},{"offset":0.29,"color":"#f0e800"},{"offset":0.325,"color":"#ff9a00"},{"offset":0.37,"color":"#f02000"},{"offset":0.5,"color":"#a80000"},{"offset":0.63,"color":"#f02000"},{"offset":0.675,"color":"#ff9a00"},{"offset":0.71,"color":"#f0e800"},{"offset":0.75,"color":"#a0d010"},{"offset":0.8,"color":"#3aa820"},{"offset":0.845,"color":"#0f8f50"},{"offset":0.9,"color":"#1f7f8f"},{"offset":0.95,"color":"#4a4fd0"},{"offset":1,"color":"#5a30f0"}]}},"encoding":{"y2":{"field":"l"}}},
{"data":{"name":"level"},"mark":{"type":"line","clip":true,"color":"#4b0f8a","strokeWidth":2.5,"strokeDash":[12,4]}},
{"data":{"name":"pa"},"mark":{"type":"rule","color":"#7a50f0","strokeWidth":1.5},"encoding":{"y2":{"datum":0.72}}},
{"data":{"name":"pa"},"mark":{"type":"point","shape":"square","filled":true,"fill":"white","stroke":"black","strokeWidth":1.2,"size":28,"opacity":1}}
]}]},
{"title":{"text":"(b)","orient":"bottom","anchor":"middle","font":"Liberation Serif","fontSize":24,"fontWeight":"normal","offset":6},"vconcat":[{"title":"Waveform","width":628,"height":280,"encoding":{"x":{"field":"t","type":"quantitative","scale":{"domain":[-0.84,26.43],"nice":false,"zero":false},"axis":{"title":"Time [µs]","values":[-0.84,0,5,10,15,20,25,26.43],"labelExpr":"datum.value<0?'-1':datum.value>26?'27':''+datum.value","gridOpacity":{"condition":{"test":"datum.value<0||datum.value>26","value":0},"value":1},"tickOpacity":{"condition":{"test":"datum.value<0||datum.value>26","value":0},"value":1}}},"y":{"field":"h","type":"quantitative","scale":{"domain":[-1.15,1.23],"nice":false,"zero":false},"axis":{"title":"Electrical Signal [a.u.]","titlePadding":0,"values":[-1.15,-1,-0.5,0,0.5,1,1.23],"labelExpr":"''+datum.value","minExtent":34,"maxExtent":34,"gridOpacity":{"condition":{"test":"abs(datum.value)>1.01","value":0},"value":1},"tickOpacity":{"condition":{"test":"abs(datum.value)>1.01","value":0},"value":1}}}},
"layer":[
{"data":{"name":"sb"},"mark":{"type":"rule","color":"#b878f0","strokeWidth":1.4},"encoding":{"y2":{"field":"l"}}},
{"data":{"name":"b"},"mark":{"type":"rule","color":"#9a40f0","strokeWidth":1.5,"opacity":0.85},"encoding":{"y2":{"field":"l"}}},
{"data":{"name":"b"},"mark":{"type":"bar","orient":"vertical","width":11,"fill":{"gradient":"linear","x1":0,"y1":0,"x2":0,"y2":1,"stops":[{"offset":0,"color":"#9030f0"},{"offset":0.04,"color":"#5a30f0"},{"offset":0.09,"color":"#3060c0"},{"offset":0.15,"color":"#108a70"},{"offset":0.21,"color":"#20a030"},{"offset":0.27,"color":"#a0d010"},{"offset":0.315,"color":"#f0e800"},{"offset":0.35,"color":"#ff9a00"},{"offset":0.39,"color":"#f02000"},{"offset":0.5,"color":"#a80000"},{"offset":0.61,"color":"#f02000"},{"offset":0.65,"color":"#ff9a00"},{"offset":0.685,"color":"#f0e800"},{"offset":0.73,"color":"#a0d010"},{"offset":0.79,"color":"#20a030"},{"offset":0.85,"color":"#108a70"},{"offset":0.91,"color":"#3060c0"},{"offset":0.96,"color":"#5a30f0"},{"offset":1,"color":"#9030f0"}]}},"encoding":{"y":{"field":"u","type":"quantitative"},"y2":{"field":"d"}}},
{"data":{"name":"b"},"mark":{"type":"bar","orient":"vertical","width":2.5,"opacity":0.55,"fill":{"gradient":"linear","x1":0,"y1":0,"x2":0,"y2":1,"stops":[{"offset":0,"color":"#9030f0"},{"offset":0.04,"color":"#5a30f0"},{"offset":0.09,"color":"#3060c0"},{"offset":0.15,"color":"#108a70"},{"offset":0.21,"color":"#20a030"},{"offset":0.27,"color":"#a0d010"},{"offset":0.315,"color":"#f0e800"},{"offset":0.35,"color":"#ff9a00"},{"offset":0.39,"color":"#f02000"},{"offset":0.5,"color":"#a80000"},{"offset":0.61,"color":"#f02000"},{"offset":0.65,"color":"#ff9a00"},{"offset":0.685,"color":"#f0e800"},{"offset":0.73,"color":"#a0d010"},{"offset":0.79,"color":"#20a030"},{"offset":0.85,"color":"#108a70"},{"offset":0.91,"color":"#3060c0"},{"offset":0.96,"color":"#5a30f0"},{"offset":1,"color":"#9030f0"}]}},"encoding":{"y2":{"field":"l"}}},
{"data":{"name":"level"},"mark":{"type":"line","clip":true,"color":"#4b0f8a","strokeWidth":2.5,"strokeDash":[12,4]}},
{"data":{"name":"pb"},"mark":{"type":"rule","color":"#9a50f0","strokeWidth":1.5},"encoding":{"y2":{"datum":0.82}}},
{"data":{"name":"pb"},"mark":{"type":"point","shape":"square","filled":true,"fill":"white","stroke":"black","strokeWidth":1.2,"size":28,"opacity":1}}
]}]}
]},
{"spacing":37,"hconcat":[
{"title":{"text":"(c)","orient":"bottom","anchor":"middle","font":"Liberation Serif","fontSize":24,"fontWeight":"normal","offset":6},"vconcat":[{"title":"Waveform","width":640,"height":279,"encoding":{"x":{"field":"t","type":"quantitative","scale":{"domain":[-0.8,27],"nice":false,"zero":false},"axis":{"title":"Time [µs]","values":[-0.8,0,5,10,15,20,25,27],"labelExpr":"datum.value<0?'-1':''+datum.value","gridOpacity":{"condition":{"test":"datum.value<0||datum.value>26","value":0},"value":1},"tickOpacity":{"condition":{"test":"datum.value<0||datum.value>26","value":0},"value":1}}},"y":{"field":"h","type":"quantitative","scale":{"domain":[-1.18,1.14],"nice":false,"zero":false},"axis":{"title":"Electrical Signal [a.u.]","titlePadding":0,"values":[-1.18,-1,-0.5,0,0.5,1,1.14],"labelExpr":"''+datum.value","minExtent":34,"maxExtent":34,"gridOpacity":{"condition":{"test":"abs(datum.value)>1.01","value":0},"value":1},"tickOpacity":{"condition":{"test":"abs(datum.value)>1.01","value":0},"value":1}}}},
"layer":[
{"data":{"name":"sc"},"mark":{"type":"rule","color":"#b878f0","strokeWidth":1.4},"encoding":{"y2":{"field":"l"}}},
{"data":{"name":"c"},"mark":{"type":"rule","color":"#9a40f0","strokeWidth":1.5,"opacity":0.85},"encoding":{"y2":{"field":"l"}}},
{"data":{"name":"c"},"mark":{"type":"bar","orient":"vertical","width":11,"fill":{"gradient":"linear","x1":0,"y1":0,"x2":0,"y2":1,"stops":[{"offset":0,"color":"#9030f0"},{"offset":0.04,"color":"#5a30f0"},{"offset":0.09,"color":"#3060c0"},{"offset":0.15,"color":"#108a70"},{"offset":0.2,"color":"#20a030"},{"offset":0.26,"color":"#a0d010"},{"offset":0.3,"color":"#f0e800"},{"offset":0.335,"color":"#ff9a00"},{"offset":0.37,"color":"#f03000"},{"offset":0.5,"color":"#c00800"},{"offset":0.63,"color":"#f03000"},{"offset":0.665,"color":"#ff9a00"},{"offset":0.7,"color":"#f0e800"},{"offset":0.74,"color":"#a0d010"},{"offset":0.8,"color":"#20a030"},{"offset":0.85,"color":"#108a70"},{"offset":0.91,"color":"#3060c0"},{"offset":0.96,"color":"#5a30f0"},{"offset":1,"color":"#9030f0"}]}},"encoding":{"y":{"field":"u","type":"quantitative"},"y2":{"field":"d"}}},
{"data":{"name":"c"},"mark":{"type":"bar","orient":"vertical","width":2.5,"opacity":0.55,"fill":{"gradient":"linear","x1":0,"y1":0,"x2":0,"y2":1,"stops":[{"offset":0,"color":"#9030f0"},{"offset":0.04,"color":"#5a30f0"},{"offset":0.09,"color":"#3060c0"},{"offset":0.15,"color":"#108a70"},{"offset":0.2,"color":"#20a030"},{"offset":0.26,"color":"#a0d010"},{"offset":0.3,"color":"#f0e800"},{"offset":0.335,"color":"#ff9a00"},{"offset":0.37,"color":"#f03000"},{"offset":0.5,"color":"#c00800"},{"offset":0.63,"color":"#f03000"},{"offset":0.665,"color":"#ff9a00"},{"offset":0.7,"color":"#f0e800"},{"offset":0.74,"color":"#a0d010"},{"offset":0.8,"color":"#20a030"},{"offset":0.85,"color":"#108a70"},{"offset":0.91,"color":"#3060c0"},{"offset":0.96,"color":"#5a30f0"},{"offset":1,"color":"#9030f0"}]}},"encoding":{"y2":{"field":"l"}}},
{"data":{"name":"c"},"mark":{"type":"bar","orient":"vertical","width":2,"fill":{"gradient":"linear","x1":0,"y1":0,"x2":0,"y2":1,"stops":[{"offset":0.36,"color":"rgba(255,170,0,0)"},{"offset":0.42,"color":"rgba(255,170,0,0.7)"},{"offset":0.58,"color":"rgba(255,170,0,0.7)"},{"offset":0.64,"color":"rgba(255,170,0,0)"}]}},"encoding":{"y2":{"field":"l"}}},
{"data":{"name":"level"},"mark":{"type":"line","clip":true,"color":"#4b0f8a","strokeWidth":2.5,"strokeDash":[12,4]}},
{"data":{"name":"pc"},"mark":{"type":"rule","color":"#9a50f0","strokeWidth":1.5},"encoding":{"y2":{"datum":0.82}}},
{"data":{"name":"pc"},"mark":{"type":"point","shape":"square","filled":true,"fill":"white","stroke":"black","strokeWidth":1.2,"size":28,"opacity":1}}
]}]},
{"title":{"text":"(d)","orient":"bottom","anchor":"middle","font":"Liberation Serif","fontSize":24,"fontWeight":"normal","offset":6},"vconcat":[{"title":"Waveform","width":628,"height":279,"encoding":{"x":{"field":"t","type":"quantitative","scale":{"domain":[-0.84,26.43],"nice":false,"zero":false},"axis":{"title":"Time [µs]","values":[-0.84,0,5,10,15,20,25,26.43],"labelExpr":"datum.value<0?'-1':datum.value>26?'27':''+datum.value","gridOpacity":{"condition":{"test":"datum.value<0||datum.value>26","value":0},"value":1},"tickOpacity":{"condition":{"test":"datum.value<0||datum.value>26","value":0},"value":1}}},"y":{"field":"h","type":"quantitative","scale":{"domain":[-1.18,1.16],"nice":false,"zero":false},"axis":{"title":"Electrical Signal [a.u.]","titlePadding":0,"values":[-1.18,-1,-0.5,0,0.5,1,1.16],"labelExpr":"''+datum.value","minExtent":34,"maxExtent":34,"gridOpacity":{"condition":{"test":"abs(datum.value)>1.01","value":0},"value":1},"tickOpacity":{"condition":{"test":"abs(datum.value)>1.01","value":0},"value":1}}}},
"layer":[
{"data":{"name":"sd"},"mark":{"type":"rule","color":"#b878f0","strokeWidth":1.4},"encoding":{"y2":{"field":"l"}}},
{"data":{"name":"d"},"mark":{"type":"rule","color":"#9a40f0","strokeWidth":1.5,"opacity":0.85},"encoding":{"y2":{"field":"l"}}},
{"data":{"name":"d"},"mark":{"type":"bar","orient":"vertical","width":11,"fill":{"gradient":"linear","x1":0,"y1":0,"x2":0,"y2":1,"stops":[{"offset":0,"color":"#9030f0"},{"offset":0.04,"color":"#5a30f0"},{"offset":0.09,"color":"#3060c0"},{"offset":0.15,"color":"#108a70"},{"offset":0.21,"color":"#20a030"},{"offset":0.27,"color":"#a0d010"},{"offset":0.315,"color":"#f0e800"},{"offset":0.35,"color":"#ff9a00"},{"offset":0.39,"color":"#f02000"},{"offset":0.5,"color":"#a80000"},{"offset":0.61,"color":"#f02000"},{"offset":0.65,"color":"#ff9a00"},{"offset":0.685,"color":"#f0e800"},{"offset":0.73,"color":"#a0d010"},{"offset":0.79,"color":"#20a030"},{"offset":0.85,"color":"#108a70"},{"offset":0.91,"color":"#3060c0"},{"offset":0.96,"color":"#5a30f0"},{"offset":1,"color":"#9030f0"}]}},"encoding":{"y":{"field":"u","type":"quantitative"},"y2":{"field":"d"}}},
{"data":{"name":"d"},"mark":{"type":"bar","orient":"vertical","width":2.5,"opacity":0.55,"fill":{"gradient":"linear","x1":0,"y1":0,"x2":0,"y2":1,"stops":[{"offset":0,"color":"#9030f0"},{"offset":0.04,"color":"#5a30f0"},{"offset":0.09,"color":"#3060c0"},{"offset":0.15,"color":"#108a70"},{"offset":0.21,"color":"#20a030"},{"offset":0.27,"color":"#a0d010"},{"offset":0.315,"color":"#f0e800"},{"offset":0.35,"color":"#ff9a00"},{"offset":0.39,"color":"#f02000"},{"offset":0.5,"color":"#a80000"},{"offset":0.61,"color":"#f02000"},{"offset":0.65,"color":"#ff9a00"},{"offset":0.685,"color":"#f0e800"},{"offset":0.73,"color":"#a0d010"},{"offset":0.79,"color":"#20a030"},{"offset":0.85,"color":"#108a70"},{"offset":0.91,"color":"#3060c0"},{"offset":0.96,"color":"#5a30f0"},{"offset":1,"color":"#9030f0"}]}},"encoding":{"y2":{"field":"l"}}},
{"data":{"name":"level"},"mark":{"type":"line","clip":true,"color":"#4b0f8a","strokeWidth":2.5,"strokeDash":[12,4]}},
{"data":{"name":"pd"},"mark":{"type":"rule","color":"#9a50f0","strokeWidth":1.5},"encoding":{"y2":{"datum":0.72}}},
{"data":{"name":"pd"},"mark":{"type":"point","shape":"square","filled":true,"fill":"white","stroke":"black","strokeWidth":1.2,"size":28,"opacity":1}}
]}]}
]}
]}
